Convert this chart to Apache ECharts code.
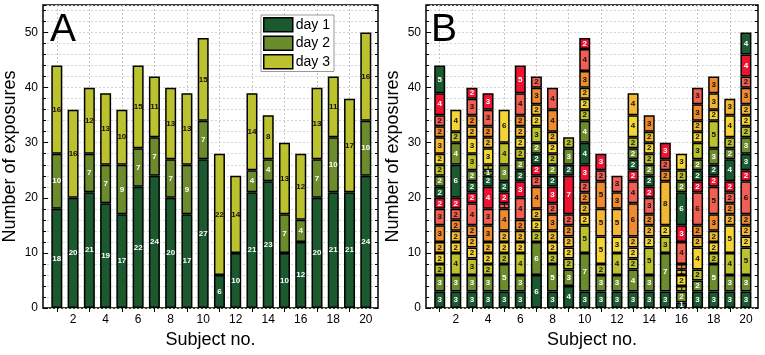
<!DOCTYPE html>
<html>
<head>
<meta charset="utf-8">
<script src="https://cdn.jsdelivr.net/npm/echarts@6/dist/echarts.min.js"></script>
<style>
  html, body { margin: 0; padding: 0; background: #fff; }
  #chart { width: 765px; height: 355px; }
</style>
</head>
<body>
<div id="chart"></div>
<script>
// panel A: exposures per day
const subjects = ['1', '2', '3', '4', '5', '6', '7', '8', '9', '10', '11', '12', '13', '14', '15', '16', '17', '18', '19', '20']
const day1 = [18, 20, 21, 19, 17, 22, 24, 20, 17, 27, 6, 10, 21, 23, 10, 12, 20, 21, 21, 24]
const day2 = [10, null, 7, 7, 9, 7, 7, 7, 9, 7, null, null, 4, 4, 7, 4, 7, 10, null, 10]
const day3 = [16, 16, 12, 13, 10, 15, 11, 13, 13, 15, 22, 14, 14, 8, 13, 12, 13, 11, 17, 16]

// panel B: consecutive blocks per subject, bottom to top
const blocks = [
  [3, 3, 2, 2, 2, 3, 3, 2, 2, 2, 2, 2, 3, 2, 2, 4, 5],
  [3, 3, 4, 2, 2, 2, 2, 2, 6, 4, 2, 4],
  [3, 3, 3, 2, 2, 2, 4, 2, 2, 2, 3, 3, 2, 2, 3, 2],
  [3, 3, 2, 2, 2, 3, 3, 4, 2, 1, 1, 3, 2, 2, 3, 3],
  [3, 5, 2, 2, 2, 4, 1, 2, 2, 3, 4, 6],
  [3, 3, 4, 2, 2, 2, 4, 3, 2, 2, 2, 2, 2, 2, 4, 5],
  [6, 6, 2, 2, 2, 4, 2, 2, 2, 2, 3, 2, 2, 3, 2],
  [3, 5, 2, 2, 2, 3, 2, 3, 2, 2, 2, 2, 2, 4, 4],
  [4, 3, 2, 2, 2, 2, 2, 7, 2, 3, 2],
  [3, 7, 5, 2, 2, 2, 2, 3, 4, 4, 2, 2, 2, 3, 4, 2],
  [3, 3, 2, 5, 5, 5, 2, 3],
  [3, 3, 4, 3, 5, 3, 3],
  [3, 4, 2, 2, 2, 6, 4, 2, 2, 2, 2, 4, 4],
  [3, 3, 5, 2, 2, 2, 3, 2, 2, 2, 2, 2, 2, 3],
  [3, 7, 3, 2, 8, 2, 2, 3],
  [1, 2, 1, 2, 1, 1, 4, 3, 6, 2, 2, 3],
  [3, 2, 2, 4, 2, 2, 6, 2, 2, 2, 3, 2, 2, 3, 3],
  [3, 5, 2, 2, 2, 3, 5, 2, 2, 3, 5, 2, 3, 3],
  [3, 3, 4, 5, 2, 2, 2, 2, 4, 2, 2, 4, 3],
  [3, 3, 5, 2, 2, 2, 6, 2, 3, 3, 2, 2, 2, 3, 2, 4, 4]
]

const xLabels = [2, 4, 6, 8, 10, 12, 14, 16, 18, 20]
const xGrid = [1, 3, 5, 7, 9, 11, 13, 15, 17, 19]

const palette = ['#1b5a2f', '#6b8b2c', '#bcc22d', '#f5d535', '#f2b733', '#ef8a2f', '#f15f52', '#ee1331']
const labelColors = ['#fff', '#fff', '#111', '#111', '#111', '#111', '#111', '#fff']
const FONT = 'Liberation Sans'

// frame geometry: value axis runs 0.15 .. 20.75 across each frame
const XMIN = 0.15
const XMAX = 20.75
const frames = [
  { left: 43, width: 335 },
  { left: 426, width: 332 }
]
// bars sit in an invisible category grid whose bands line up with the value axis
function barGrid (f) {
  const u = f.width / (XMAX - XMIN)
  const x0 = f.left - XMIN * u
  return { left: x0 + 0.5 * u, top: 5, width: 20 * u, height: 303, show: false }
}

function frameAxesX (gridIndex) {
  return [
    {
      gridIndex: gridIndex,
      type: 'value',
      min: XMIN,
      max: XMAX,
      name: 'Subject no.',
      nameLocation: 'middle',
      nameGap: 22,
      nameTextStyle: { fontSize: 18, color: '#000', fontFamily: FONT },
      axisLine: { show: false },
      axisTick: { show: true, inside: true, length: 4, customValues: xGrid, lineStyle: { color: '#000' } },
      axisLabel: { customValues: xLabels, color: '#000', fontSize: 12, fontFamily: FONT, margin: 6 },
      splitLine: { show: true, lineStyle: { color: '#c4c4c4', type: [2, 2], width: 1 } }
    },
    {
      gridIndex: gridIndex,
      type: 'value',
      position: 'top',
      min: XMIN,
      max: XMAX,
      axisLine: { show: false },
      axisTick: { show: true, inside: true, length: 4, customValues: xGrid, lineStyle: { color: '#000' } },
      axisLabel: { show: false },
      splitLine: { show: false }
    }
  ]
}

function frameAxesY (gridIndex) {
  return [
    {
      gridIndex: gridIndex,
      type: 'value',
      min: 0,
      max: 55,
      interval: 10,
      name: 'Number of exposures',
      nameLocation: 'middle',
      nameGap: 24,
      nameTextStyle: { fontSize: 18, color: '#000', fontFamily: FONT },
      axisLine: { show: false },
      axisTick: { show: true, inside: true, length: 5, lineStyle: { color: '#000' } },
      axisLabel: { color: '#000', fontSize: 12, fontFamily: FONT, margin: 5, showMaxLabel: false },
      splitLine: { show: true, lineStyle: { color: '#a8a8a8', type: [2, 2] } }
    },
    {
      gridIndex: gridIndex,
      type: 'value',
      position: 'right',
      min: 0,
      max: 55,
      interval: 2,
      axisLine: { show: false },
      axisTick: { show: true, inside: true, length: 3, lineStyle: { color: '#000' } },
      axisLabel: { show: false },
      splitLine: { show: true, lineStyle: { color: '#d6d6d6', type: [2, 2] } }
    },
    {
      gridIndex: gridIndex,
      type: 'value',
      position: 'left',
      min: 0,
      max: 55,
      interval: 2,
      axisLine: { show: false },
      axisTick: { show: true, inside: true, length: 3, lineStyle: { color: '#000' } },
      axisLabel: { show: false },
      splitLine: { show: false }
    }
  ]
}

function barAxisX (gridIndex) {
  return { gridIndex: gridIndex, type: 'category', data: subjects, show: false }
}
function barAxisY (gridIndex) {
  return { gridIndex: gridIndex, type: 'value', min: 0, max: 55, show: false, splitLine: { show: false } }
}

function labelStyle (c) {
  return {
    show: true,
    position: 'inside',
    fontSize: 8,
    fontWeight: 'bold',
    fontFamily: FONT,
    color: labelColors[c]
  }
}

function dayBar (name, values, c) {
  return {
    name: name,
    type: 'bar',
    stack: 'days',
    xAxisIndex: 4,
    yAxisIndex: 6,
    barWidth: 11,
    itemStyle: { color: palette[c], borderColor: '#000', borderWidth: 1.5 },
    label: labelStyle(c),
    data: values
  }
}

const seriesA = [
  dayBar('day 1', day1, 0),
  dayBar('day 2', day2, 1),
  dayBar('day 3', day3, 2)
]

// one stacked series per block level, colour cycles through the palette
const maxBlocks = Math.max(...blocks.map(b => b.length))
const seriesB = []
for (let k = 0; k < maxBlocks; k++) {
  const c = k % palette.length
  seriesB.push({
    name: 'block ' + (k + 1),
    type: 'bar',
    stack: 'blocks',
    xAxisIndex: 5,
    yAxisIndex: 7,
    barWidth: 11,
    itemStyle: { color: palette[c], borderColor: '#000', borderWidth: 1.5 },
    label: labelStyle(c),
    data: blocks.map(b => (b[k] !== undefined ? b[k] : null))
  })
}

const chart = echarts.init(document.getElementById('chart'), null, { renderer: 'canvas' })
chart.setOption({
  animation: false,
  textStyle: { fontFamily: FONT },
  title: [
    { text: 'A', left: 50, top: 11, padding: 0, textStyle: { fontSize: 39, fontWeight: 'normal', color: '#000', fontFamily: FONT } },
    { text: 'B', left: 431, top: 11, padding: 0, textStyle: { fontSize: 39, fontWeight: 'normal', color: '#000', fontFamily: FONT } }
  ],
  legend: {
    data: ['day 1', 'day 2', 'day 3'],
    orient: 'vertical',
    left: 261,
    top: 15,
    icon: 'rect',
    itemWidth: 29,
    itemHeight: 14,
    itemGap: 3,
    itemStyle: { borderColor: '#000', borderWidth: 1.5 },
    padding: [2, 4, 2, 2],
    backgroundColor: '#fff',
    borderColor: '#999',
    borderWidth: 1,
    borderRadius: 0,
    textStyle: { fontSize: 14, color: '#000', fontFamily: FONT, padding: [0, 0, 0, -2] }
  },
  grid: [
    { left: frames[0].left, top: 5, width: frames[0].width, height: 303, show: true, borderColor: '#000', borderWidth: 1.5, backgroundColor: 'transparent' },
    { left: frames[1].left, top: 5, width: frames[1].width, height: 303, show: true, borderColor: '#000', borderWidth: 1.5, backgroundColor: 'transparent' },
    barGrid(frames[0]),
    barGrid(frames[1])
  ],
  // 0-1: frame A x, 2-3: frame B x, 4: bars A, 5: bars B
  xAxis: frameAxesX(0).concat(frameAxesX(1), [barAxisX(2), barAxisX(3)]),
  // 0-2: frame A y, 3-5: frame B y, 6: bars A, 7: bars B
  yAxis: frameAxesY(0).concat(frameAxesY(1), [barAxisY(2), barAxisY(3)]),
  series: seriesA.concat(seriesB)
})
</script>
</body>
</html>
